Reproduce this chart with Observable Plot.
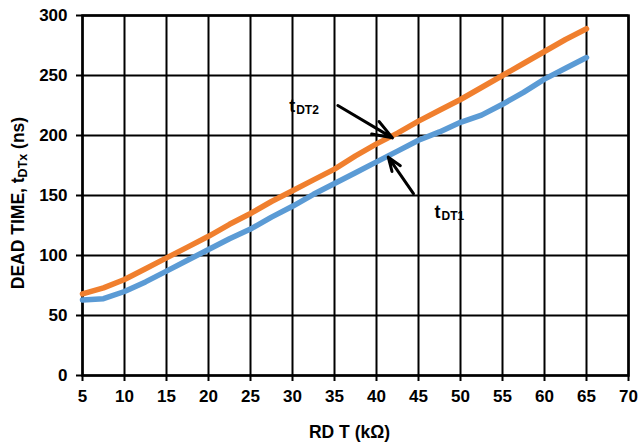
<!DOCTYPE html>
<html>
<head>
<meta charset="utf-8">
<script src="https://cdn.jsdelivr.net/npm/d3@7"></script>
<script src="https://cdn.jsdelivr.net/npm/@observablehq/plot@0.6"></script>
<style>
  html, body { margin: 0; padding: 0; background: #fff; }
  #chart { width: 639px; height: 443px; }
</style>
</head>
<body>
<div id="chart"></div>
<script>
// RDT resistance (kΩ)
const rdt = [5, 7.5, 10, 12.5, 15, 17.5, 20, 22.5, 25, 27.5, 30, 32.5, 35, 37.5, 40, 42.5, 45, 47.5, 50, 52.5, 55, 57.5, 60, 62.5, 65];
// tDT2 dead time (ns) – orange
const tdt2 = [68, 73, 80, 89, 98, 107, 116, 126, 135, 145, 154, 163, 172, 183, 193, 202, 212, 221, 230, 240, 250, 260, 270, 280, 289];
// tDT1 dead time (ns) – blue
const tdt1 = [63, 64, 70, 78, 87, 96, 105, 114, 122, 132, 141, 151, 160, 169, 178, 187, 196, 203, 211, 217, 226, 236, 247, 256, 265];

const xTicks = [5, 10, 15, 20, 25, 30, 35, 40, 45, 50, 55, 60, 65, 70];
const yTicks = [0, 50, 100, 150, 200, 250, 300];

const seriesNames = ["tDT2", "tDT1"];
const seriesColors = ["#F07F2E", "#5B9BD5"];

const xTitle = "RD T (kΩ)";

// annotations: label anchor and arrow (data coordinates)
const annotations = [
  {name: "DT2", lx: 29.6, ly: 220, x1: 35.4, y1: 225, x2: 41.9, y2: 198},
  {name: "DT1", lx: 46.9, ly: 131.5, x1: 44.4, y1: 151.5, x2: 41.4, y2: 182}
];

const rows = [];
seriesNames.forEach((s, i) => {
  const vals = i === 0 ? tdt2 : tdt1;
  rows.push(...rdt.map((x, j) => ({series: s, x, y: vals[j]})));
});

const font = "'Liberation Sans', Arial, Helvetica, sans-serif";

const chart = Plot.plot({
  width: 639,
  height: 443,
  marginLeft: 82,
  marginRight: 11,
  marginTop: 15,
  marginBottom: 68,
  style: {fontFamily: font, fontWeight: "bold", fontSize: "17px", color: "black", background: "white", overflow: "visible"},
  x: {domain: [5, 70], label: null},
  y: {domain: [0, 300], label: null},
  color: {domain: seriesNames, range: seriesColors},
  marks: [
    Plot.gridX(xTicks, {stroke: "black", strokeOpacity: 1, strokeWidth: 2}),
    Plot.gridY(yTicks, {stroke: "black", strokeOpacity: 1, strokeWidth: 2}),
    Plot.frame({stroke: "black", strokeWidth: 2.5}),
    Plot.axisX(xTicks, {tickSize: 6, tickPadding: 8, strokeWidth: 2, label: null, fontSize: 17}),
    Plot.axisY(yTicks, {tickSize: 6, tickPadding: 9, strokeWidth: 2, label: null, fontSize: 17}),
    Plot.line(rows, {x: "x", y: "y", z: "series", stroke: "series", strokeWidth: 5.5, strokeLinecap: "round", strokeLinejoin: "round"}),
    Plot.arrow(annotations, {x1: "x1", y1: "y1", x2: "x2", y2: "y2", stroke: "black", strokeWidth: 3, headLength: 16, headAngle: 40}),
    Plot.text(annotations, {x: "lx", y: "ly", text: () => "t", textAnchor: "start", lineAnchor: "bottom", fontSize: 18, fontWeight: "bold"}),
    Plot.text(annotations, {x: "lx", y: "ly", text: "name", textAnchor: "start", lineAnchor: "bottom", fontSize: 12, fontWeight: "bold", dx: 7, dy: 2}),
    Plot.text([xTitle], {frameAnchor: "bottom", text: d => d, lineAnchor: "bottom", dy: 62, dx: -6, fontSize: 17.5, fontWeight: "bold"})
  ]
});

document.getElementById("chart").appendChild(chart);

// y-axis title with subscript (real text)
const svg = d3.select(chart.tagName.toLowerCase() === "svg" ? chart : chart.querySelector("svg"));
const yt = svg.append("text")
  .attr("transform", "translate(24,203) rotate(-90)")
  .attr("text-anchor", "middle")
  .attr("font-family", font)
  .attr("font-weight", "bold")
  .attr("font-size", 17.5)
  .attr("fill", "black");
yt.append("tspan").text("DEAD TIME, t");
yt.append("tspan").attr("font-size", 12.5).attr("dy", 3).text("DTx");
yt.append("tspan").attr("dy", -3).text(" (ns)");
</script>
</body>
</html>
